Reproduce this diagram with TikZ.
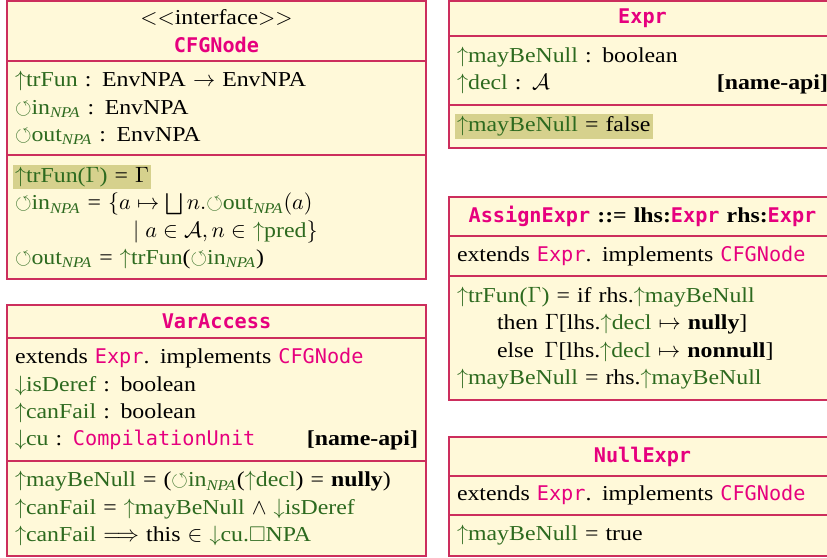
\documentclass[tikz,border=0pt]{standalone}
\usepackage{amsmath,amssymb}
\usepackage[no-math]{fontspec}
\setmainfont{Liberation Serif}[FakeStretch=1.12]
\setmonofont{DejaVu Sans Mono}[Scale=0.95]
\usepackage{tikz}
\usetikzlibrary{positioning}

\newlength{\unitpx}
\setlength{\unitpx}{0.01735cm}

\definecolor{fundal}{HTML}{FFF9D9}
\definecolor{bordura}{HTML}{CC2E5D}
\definecolor{roz}{HTML}{E6007E}
\definecolor{verde}{HTML}{2D6A1F}
\definecolor{evid}{HTML}{D6D18D}

% atribute: sintetizat, mostenit, colectie
\newcommand{\sint}[1]{\textcolor{verde}{$\uparrow$#1}}
\newcommand{\mot}[1]{\textcolor{verde}{$\downarrow$#1}}
\newcommand{\colatr}[1]{\textcolor{verde}{$\circlearrowleft$#1}}
\newcommand{\npa}{$_{\textit{NPA}}$}
\newcommand{\tip}[1]{\textcolor{roz}{\texttt{#1}}}
\newcommand{\evidtext}[1]{{\setlength{\fboxsep}{1pt}\hspace*{-1pt}\colorbox{evid}{#1}}}
\newcommand{\ladreapta}{\hspace{0pt plus 1filll}}

\tikzset{
  sectiune/.style = {draw=bordura, fill=fundal, line width=0.7pt, align=left,
                     inner xsep=8\unitpx, inner ysep=0pt, outer sep=0pt,
                     font=\fontsize{10.5}{13.5}\selectfont},
  antet/.style    = {sectiune, align=center},
  stanga/.style   = {text width=403\unitpx},
  dreapta/.style  = {text width=371\unitpx}
}

\begin{document}
\begin{tikzpicture}[x=\unitpx, y=-\unitpx, node distance=0pt]
  \useasboundingbox (0,0) rectangle (827,558);
  \clip (0,0) rectangle (827,558);

  % CFGNode
  \node[antet, stanga, minimum height=60\unitpx, anchor=north west] (cfgAntet) at (7,1)
    {$<<$interface$>>$\\ \textbf{\tip{CFGNode}}};
  \node[sectiune, stanga, minimum height=94\unitpx, below=of cfgAntet] (cfgAtr)
    {\sint{trFun} : EnvNPA $\rightarrow$ EnvNPA\\
     \colatr{in\npa} : EnvNPA\\
     \colatr{out\npa} : EnvNPA};
  \node[sectiune, stanga, minimum height=124\unitpx, below=of cfgAtr] (cfgOp)
    {\evidtext{\sint{trFun($\Gamma$)} = $\Gamma$}\\
     \colatr{in\npa} = $\{a \mapsto \bigsqcup n.$\colatr{out\npa}$(a)$\\
     \hspace*{118\unitpx}$\mid a \in \mathcal{A}, n \in$ \sint{pred}$\}$\\
     \colatr{out\npa} = \sint{trFun}(\colatr{in\npa})};

  % VarAccess
  \node[antet, stanga, minimum height=33\unitpx, anchor=north west] (varAntet) at (7,305)
    {\textbf{\tip{VarAccess}}};
  \node[sectiune, stanga, minimum height=123\unitpx, below=of varAntet] (varAtr)
    {extends \tip{Expr}. implements \tip{CFGNode}\\
     \mot{isDeref} : boolean\\
     \sint{canFail} : boolean\\
     \mot{cu} : \tip{CompilationUnit}\ladreapta\textbf{[name-api]}};
  \node[sectiune, stanga, minimum height=95\unitpx, below=of varAtr] (varOp)
    {\sint{mayBeNull} = (\colatr{in\npa}(\sint{decl}) = \textbf{nully})\\
     \sint{canFail} = \sint{mayBeNull} $\wedge$ \mot{isDeref}\\
     \sint{canFail} $\Longrightarrow$ this $\in$ \mot{cu.$\square$NPA}};

  % Expr
  \node[antet, dreapta, minimum height=35\unitpx, anchor=north west] (exprAntet) at (449,1)
    {\textbf{\tip{Expr}}};
  \node[sectiune, dreapta, minimum height=69\unitpx, below=of exprAntet] (exprAtr)
    {\sint{mayBeNull} : boolean\\
     \sint{decl} : $\mathcal{A}$\ladreapta\textbf{[name-api]}};
  \node[sectiune, dreapta, minimum height=43\unitpx, below=of exprAtr] (exprOp)
    {\evidtext{\sint{mayBeNull} = false}};

  % AssignExpr
  \node[antet, dreapta, minimum height=39\unitpx, anchor=north west] (asgAntet) at (449,197)
    {\textbf{\tip{AssignExpr} ::= lhs:\tip{Expr} rhs:\tip{Expr}}};
  \node[sectiune, dreapta, minimum height=40\unitpx, below=of asgAntet] (asgExt)
    {extends \tip{Expr}. implements \tip{CFGNode}};
  \node[sectiune, dreapta, minimum height=124\unitpx, below=of asgExt] (asgOp)
    {\sint{trFun($\Gamma$)} = if rhs.\sint{mayBeNull}\\
     \hspace*{40\unitpx}then $\Gamma$[lhs.\sint{decl} $\mapsto$ \textbf{nully}]\\
     \hspace*{40\unitpx}else\enspace$\Gamma$[lhs.\sint{decl} $\mapsto$ \textbf{nonnull}]\\
     \sint{mayBeNull} = rhs.\sint{mayBeNull}};

  % NullExpr
  \node[antet, dreapta, minimum height=39\unitpx, anchor=north west] (nulAntet) at (449,437)
    {\textbf{\tip{NullExpr}}};
  \node[sectiune, dreapta, minimum height=39\unitpx, below=of nulAntet] (nulExt)
    {extends \tip{Expr}. implements \tip{CFGNode}};
  \node[sectiune, dreapta, minimum height=41\unitpx, below=of nulExt] (nulOp)
    {\sint{mayBeNull} = true};
\end{tikzpicture}
\end{document}
